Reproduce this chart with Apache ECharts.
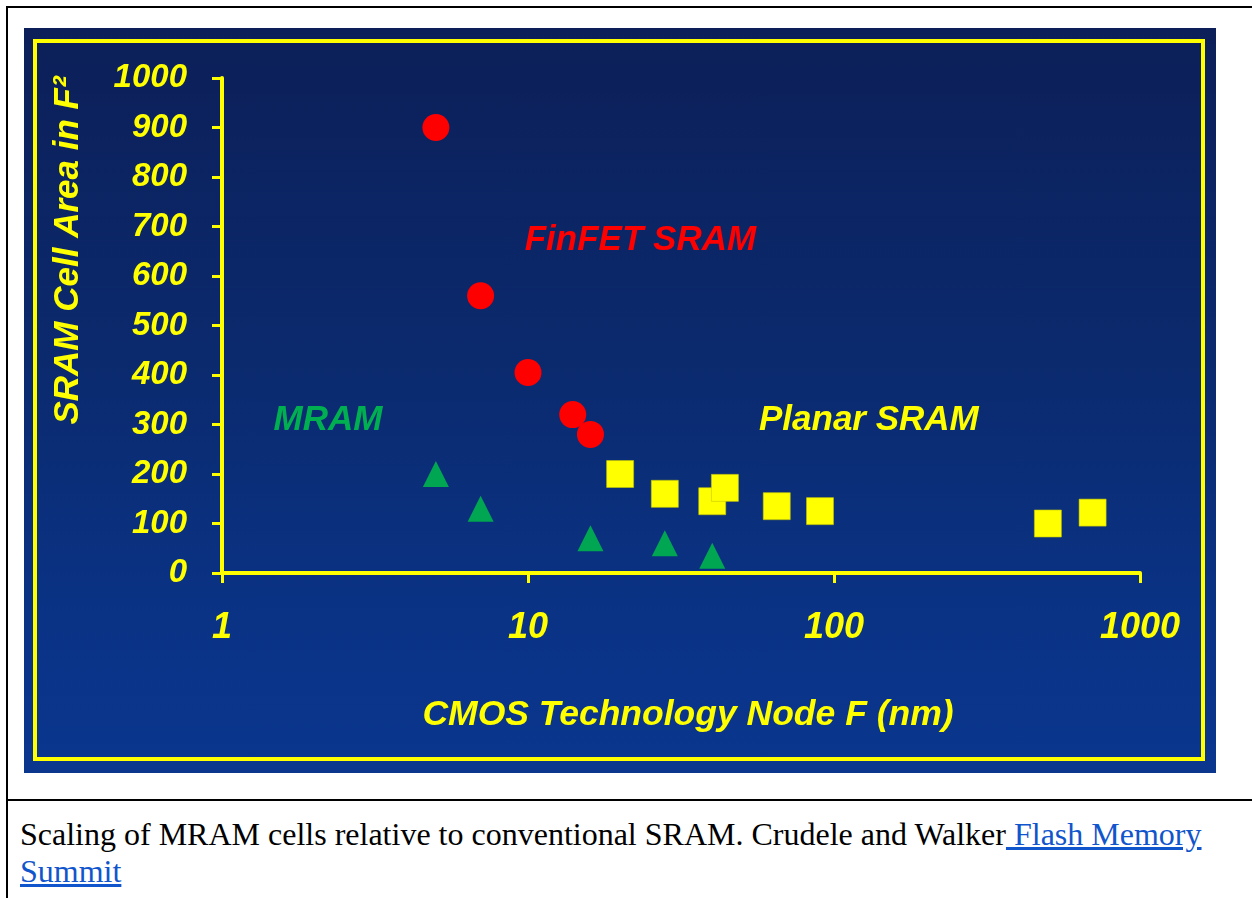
<!DOCTYPE html>
<html>
<head>
<meta charset="utf-8">
<script src="https://cdn.jsdelivr.net/npm/echarts@6/dist/echarts.min.js"></script>
<style>
  html, body { margin: 0; padding: 0; background: #ffffff; width: 1252px; height: 898px; overflow: hidden; }
  .line { position: absolute; background: #000; }
  #panel { position: absolute; left: 24px; top: 28px; width: 1192px; height: 745px;
           background: linear-gradient(to bottom, #0c1f58 0%, #0b2a6e 45%, #0a3386 80%, #0a368e 100%); }
  #frame { position: absolute; left: 33px; top: 39px; width: 1172px; height: 722px; box-sizing: border-box;
           border: 4px solid #ffff00; }
  #chart { position: absolute; left: 24px; top: 28px; width: 1192px; height: 745px; }
  #caption { position: absolute; left: 20px; top: 816px; width: 1225px;
             font-family: 'Liberation Serif', 'Times New Roman', serif; font-size: 32px; line-height: 37px; color: #000; }
  #caption a { color: #1155cc; text-decoration: underline; }
</style>
</head>
<body>
<div class="line" style="left:6px;top:6px;width:1246px;height:2px;"></div>
<div class="line" style="left:6px;top:6px;width:2px;height:892px;"></div>
<div class="line" style="left:6px;top:799px;width:1246px;height:2px;"></div>
<div id="panel"></div>
<div id="frame"></div>
<div id="chart"></div>
<div id="caption">Scaling of MRAM cells relative to conventional SRAM. Crudele and Walker<a href="#"> Flash Memory Summit</a></div>
<script>
// ---- data ----
const finfetNode = [5, 7, 10, 14, 16];
const finfetArea = [900, 560, 405, 320, 280];
const mramNode = [5, 7, 16, 28, 40];
const mramArea = [200, 130, 70, 60, 35];
const planarNode = [20, 28, 40, 44, 65, 90, 500, 700];
const planarArea = [200, 160, 145, 172, 135, 125, 100, 122];
const xTickLabels = ['1', '10', '100', '1000'];
const yTickLabels = ['0', '100', '200', '300', '400', '500', '600', '700', '800', '900', '1000'];
const annotationText = ['FinFET SRAM', 'MRAM', 'Planar SRAM'];
const annotationNode = [23.3, 2.22, 130];
const annotationArea = [673, 309, 309];
const annotationColor = ['#ff0000', '#00b050', '#ffff00'];

const zip = (xs, ys) => xs.map((x, i) => [x, ys[i]]);
const FONT = "'Liberation Sans', Arial, sans-serif";
const YEL = '#ffff00';

const chart = echarts.init(document.getElementById('chart'), null, { renderer: 'canvas' });
chart.setOption({
  animation: false,
  backgroundColor: 'transparent',
  grid: { left: 198, right: 76, top: 50, bottom: 200, containLabel: false },
  xAxis: {
    type: 'log', logBase: 10, min: 1, max: 1000,
    name: 'CMOS Technology Node F (nm)', nameLocation: 'middle', nameGap: 124,
    nameTextStyle: { color: YEL, fontFamily: FONT, fontSize: 35.5, fontWeight: 'bold', fontStyle: 'italic', padding: [0, 0, 0, 14] },
    axisLine: { show: true, lineStyle: { color: YEL, width: 4 } },
    axisTick: { show: true, inside: false, length: 10, lineStyle: { color: YEL, width: 3 } },
    minorTick: { show: false },
    splitLine: { show: false },
    axisLabel: { color: YEL, fontFamily: FONT, fontSize: 36, fontWeight: 'bold', fontStyle: 'italic', margin: 37,
                 formatter: (v, i) => xTickLabels[i] },
  },
  yAxis: {
    type: 'value', min: 0, max: 1000, interval: 100,
    name: 'SRAM Cell Area in F²', nameLocation: 'middle', nameGap: 136, nameRotate: 90,
    nameTextStyle: { color: YEL, fontFamily: FONT, fontSize: 35, fontWeight: 'bold', fontStyle: 'italic', padding: [0, 0, 0, 150] },
    axisLine: { show: true, lineStyle: { color: YEL, width: 4 } },
    axisTick: { show: true, inside: false, length: 10, lineStyle: { color: YEL, width: 3 } },
    splitLine: { show: false },
    axisLabel: { color: YEL, fontFamily: FONT, fontSize: 33, fontWeight: 'bold', fontStyle: 'italic', margin: 35,
                 formatter: (v, i) => yTickLabels[i] },
  },
  series: [
    { name: 'Planar SRAM', type: 'scatter', symbol: 'rect', symbolSize: 27,
      itemStyle: { color: YEL, opacity: 1, borderColor: '#c8c800', borderWidth: 0.6 }, data: zip(planarNode, planarArea), z: 3 },
    { name: 'FinFET SRAM', type: 'scatter', symbol: 'circle', symbolSize: 27,
      itemStyle: { color: '#ff0000', opacity: 1 }, data: zip(finfetNode, finfetArea), z: 3 },
    { name: 'MRAM', type: 'scatter', symbol: 'triangle', symbolSize: 26,
      itemStyle: { color: '#00a651', opacity: 1 }, data: zip(mramNode, mramArea), z: 3 },
    { name: 'annotations', type: 'scatter', symbolSize: 0.1, silent: true,
      itemStyle: { color: 'rgba(0,0,0,0)', opacity: 1 },
      data: annotationText.map((t, i) => ({
        value: [annotationNode[i], annotationArea[i]],
        label: { show: true, position: 'inside', formatter: t, color: annotationColor[i], opacity: 1,
                 fontFamily: FONT, fontSize: 35, fontWeight: 'bold', fontStyle: 'italic',
                 align: 'center', verticalAlign: 'middle' }
      })), z: 4 }
  ]
});
</script>
</body>
</html>
